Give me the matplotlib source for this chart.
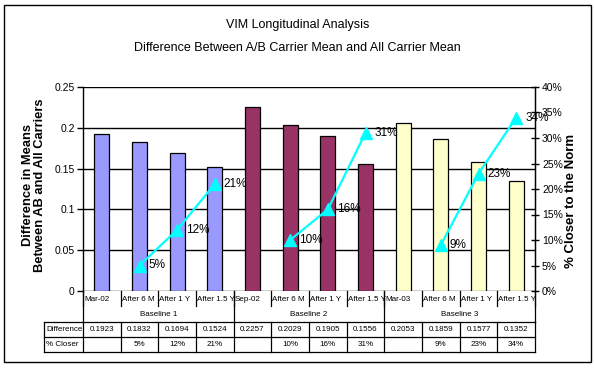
import matplotlib
matplotlib.use("Agg")
import matplotlib.pyplot as plt
from matplotlib.patches import Rectangle

plt.rcParams['font.family'] = ['Liberation Sans', 'DejaVu Sans']

categories = ["Mar-02", "After 6 M", "After 1 Y", "After 1.5 Y",
              "Sep-02", "After 6 M", "After 1 Y", "After 1.5 Y",
              "Mar-03", "After 6 M", "After 1 Y", "After 1.5 Y"]
baselines = ["Baseline 1", "Baseline 2", "Baseline 3"]
difference = [0.1923, 0.1832, 0.1694, 0.1524,
              0.2257, 0.2029, 0.1905, 0.1556,
              0.2053, 0.1859, 0.1577, 0.1352]
diff_labels = ["0.1923", "0.1832", "0.1694", "0.1524",
               "0.2257", "0.2029", "0.1905", "0.1556",
               "0.2053", "0.1859", "0.1577", "0.1352"]
pct_closer = [None, 5, 12, 21, None, 10, 16, 31, None, 9, 23, 34]
group_colors = ["#9999FF", "#993366", "#FFFFCC"]
per_group = 4

W, H = 595, 369
fig = plt.figure(figsize=(W / 100, H / 100), dpi=100)

def fx(px):
    return px / W

def fy(py):
    return 1 - py / H

# outer border
fig.patches.append(Rectangle((fx(4), fy(362)), fx(591) - fx(4), fy(5) - fy(362),
                             transform=fig.transFigure, fill=False,
                             edgecolor='black', linewidth=1.0))

L, R, T, B = 83, 535, 87, 291
ax = fig.add_axes([fx(L), fy(B), fx(R) - fx(L), fy(T) - fy(B)])
n = len(categories)
xs = list(range(n))
colors = [group_colors[i // per_group] for i in xs]
ax.bar(xs, difference, width=0.4, color=colors, edgecolor='black', linewidth=0.9, zorder=3)
ax.set_xlim(-0.5, n - 0.5)
ax.set_ylim(0, 0.25)
ax.set_yticks([0, 0.05, 0.1, 0.15, 0.2, 0.25])
ax.set_yticklabels(["0", "0.05", "0.1", "0.15", "0.2", "0.25"], fontsize=7.5)
ax.set_xticks([])
ax.grid(axis='y', color='black', linewidth=1.0, zorder=0)
ax.set_axisbelow(True)
for s in ['top', 'bottom']:
    ax.spines[s].set_visible(False)
ax.spines['left'].set_linewidth(1.0)
ax.tick_params(axis='y', direction='out', length=4, width=1, pad=2)

ax2 = ax.twinx()
ax2.set_ylim(0, 0.40)
ax2.set_yticks([i * 0.05 for i in range(9)])
ax2.set_yticklabels([f"{i * 5}%" for i in range(9)], fontsize=7.5)
ax2.tick_params(axis='y', direction='inout', length=6, width=1, pad=2)
for s in ['top', 'bottom', 'left']:
    ax2.spines[s].set_visible(False)
ax2.spines['right'].set_linewidth(1.0)

fig.text(fx(34), fy(185), "Difference in Means\nBetween AB and All Carriers", rotation=90,
         ha='center', va='center', fontsize=9.3, fontweight='bold', linespacing=1.0)
fig.text(fx(571), fy(201), "% Closer to the Norm", rotation=90,
         ha='center', va='center', fontsize=9.5, fontweight='bold')

for g in range(len(baselines)):
    gx = [i for i in range(g * per_group, (g + 1) * per_group) if pct_closer[i] is not None]
    gy = [pct_closer[i] / 100 for i in gx]
    ax2.plot(gx, gy, color='#00FFFF', linewidth=1.6, marker='^', markersize=9,
             markeredgecolor='#00FFFF', zorder=5)
    for x, v in zip(gx, gy):
        ax2.annotate(f"{round(v * 100)}%", (x, v), xytext=(6.5, 0), textcoords='offset points',
                     ha='left', va='center', fontsize=8.5, zorder=6)

# title
fig.text(0.5, fy(25), "VIM Longitudinal Analysis", ha='center', va='center', fontsize=9)
fig.text(0.5, fy(48), "Difference Between A/B Carrier Mean and All Carrier Mean",
         ha='center', va='center', fontsize=9)

# data table under axis
TL, TB = 44, 352
unit = (R - L) / n
tab = fig.add_axes([fx(TL), fy(TB), fx(R) - fx(TL), fy(B) - fy(TB)])
xleft = -0.5 - (L - TL) / unit
tab.set_xlim(xleft, n - 0.5)
tab.set_ylim(4, 0)
tab.axis('off')
lk = dict(color='black', linewidth=0.9, clip_on=False)
for i in range(n + 1):
    b = i - 0.5
    tab.plot([b, b], [0, 1], **lk)
    tab.plot([b, b], [2, 4], **lk)
for g in range(len(baselines) + 1):
    b = g * per_group - 0.5
    tab.plot([b, b], [0, 2], **lk)
tab.plot([xleft, xleft], [2, 4], **lk)
for yy in [2, 3, 4]:
    tab.plot([xleft, n - 0.5], [yy, yy], **lk)

narrow = ['Liberation Sans Narrow', 'Liberation Sans', 'DejaVu Sans']
fs = 5.8
for i, c in enumerate(categories):
    tab.text(i - 0.47, 0.55, c, ha='left', va='center', fontsize=fs, family=narrow)
for g, bl in enumerate(baselines):
    tab.text(g * per_group + (per_group - 1) / 2, 1.55, bl, ha='center', va='center',
             fontsize=fs, family=narrow)
tab.text(xleft + 0.05, 2.5, "Difference", ha='left', va='center', fontsize=fs, family=narrow)
tab.text(xleft + 0.05, 3.5, "% Closer", ha='left', va='center', fontsize=fs, family=narrow)
for i in range(n):
    tab.text(i, 2.5, diff_labels[i], ha='center', va='center', fontsize=fs, family=narrow)
    if pct_closer[i] is not None:
        tab.text(i, 3.5, f"{pct_closer[i]}%", ha='center', va='center', fontsize=fs, family=narrow)

fig.savefig("out.png", dpi=100)
